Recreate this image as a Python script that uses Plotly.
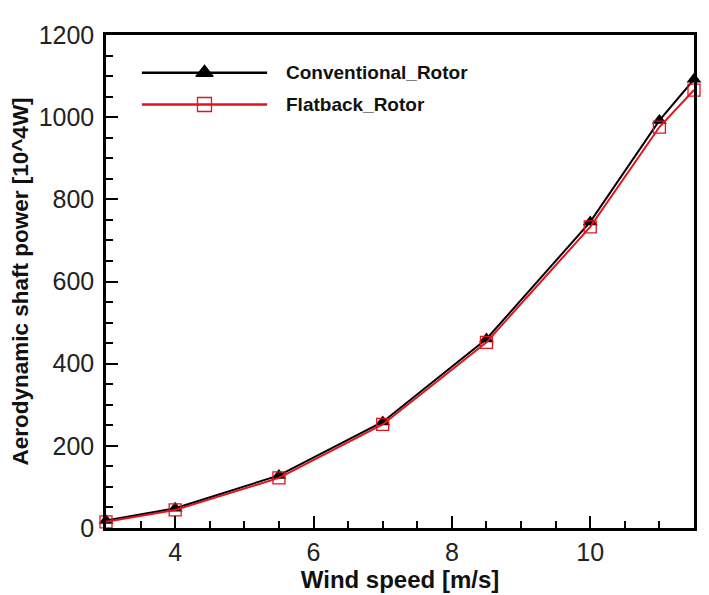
import plotly.graph_objects as go

wind_speed = [3, 4, 5.5, 7, 8.5, 10, 11, 11.5]
conventional = [18, 48, 128, 258, 460, 745, 992, 1092]
flatback = [15, 44, 122, 252, 452, 733, 976, 1066]
series_names = ["Conventional_Rotor", "Flatback_Rotor"]
x_ticks = [4, 6, 8, 10]
y_ticks = [0, 200, 400, 600, 800, 1000, 1200]

BLACK = "#000000"
RED = "#e0141e"
FONT = "Liberation Sans, Arial, sans-serif"

fig = go.Figure()
fig.add_trace(go.Scatter(
    x=wind_speed, y=conventional, mode="lines+markers", name=series_names[0],
    line=dict(color=BLACK, width=2),
    marker=dict(symbol="triangle-up", size=13, color=BLACK),
    cliponaxis=False, showlegend=False))
fig.add_trace(go.Scatter(
    x=wind_speed, y=flatback, mode="lines+markers", name=series_names[1],
    line=dict(color=RED, width=2),
    marker=dict(symbol="square-open", size=12, color=RED, line=dict(width=1.3, color=RED)),
    cliponaxis=False, showlegend=False))

# custom legend keys on an overlay axis (0-1 units)
leg_rows = [(0.9235, BLACK, "triangle-up", 13, series_names[0]),
            (0.859, RED, "square-open", 12, series_names[1])]
for yy, col, sym, sz, name in leg_rows:
    fig.add_trace(go.Scatter(x=[0.061, 0.274], y=[yy, yy], mode="lines",
                             line=dict(color=col, width=2.5), xaxis="x2", yaxis="y2",
                             showlegend=False, hoverinfo="skip"))
    fig.add_trace(go.Scatter(x=[0.1675], y=[yy], mode="markers",
                             marker=dict(symbol=sym, size=sz + 2, color=col,
                                         line=dict(width=1.3, color=col)),
                             xaxis="x2", yaxis="y2", showlegend=False, hoverinfo="skip"))
    fig.add_annotation(x=0.303, y=yy, xref="x2", yref="y2", text=f"<b>{name}</b>",
                       showarrow=False, xanchor="left", yanchor="middle",
                       font=dict(family=FONT, size=19, color="#111"))

fig.update_layout(
    width=709, height=595,
    margin=dict(l=106, r=12, t=35, b=63),
    paper_bgcolor="white", plot_bgcolor="white",
    font=dict(family=FONT, color="#222"),
    xaxis=dict(
        range=[3, 11.5], tickvals=x_ticks, ticks="inside", ticklen=12, tickwidth=2,
        tickcolor=BLACK, showline=True, linewidth=2.5, linecolor=BLACK, mirror=True,
        showgrid=False, zeroline=False, tickfont=dict(size=25, color="#222"),
        minor=dict(dtick=0.5, ticks="inside", ticklen=7, tickwidth=1.5, tickcolor=BLACK),
        title=dict(text="<b>Wind speed [m/s]</b>", font=dict(size=24, color="#111"), standoff=0),
    ),
    yaxis=dict(
        range=[0, 1200], tickvals=y_ticks, ticks="inside", ticklen=12, tickwidth=2,
        tickcolor=BLACK, showline=True, linewidth=2.5, linecolor=BLACK, mirror=True,
        showgrid=False, zeroline=False, tickfont=dict(size=25, color="#222"),
        ticklabelstandoff=4,
        minor=dict(dtick=50, ticks="inside", ticklen=7, tickwidth=1.5, tickcolor=BLACK),
        title=dict(text="<b>Aerodynamic shaft power [10^4W]</b>", font=dict(size=22.5, color="#111"),
                   standoff=4),
    ),
    xaxis2=dict(range=[0, 1], overlaying="x", visible=False, fixedrange=True),
    yaxis2=dict(range=[0, 1], overlaying="y", visible=False, fixedrange=True),
)

fig.write_html("out.html")
